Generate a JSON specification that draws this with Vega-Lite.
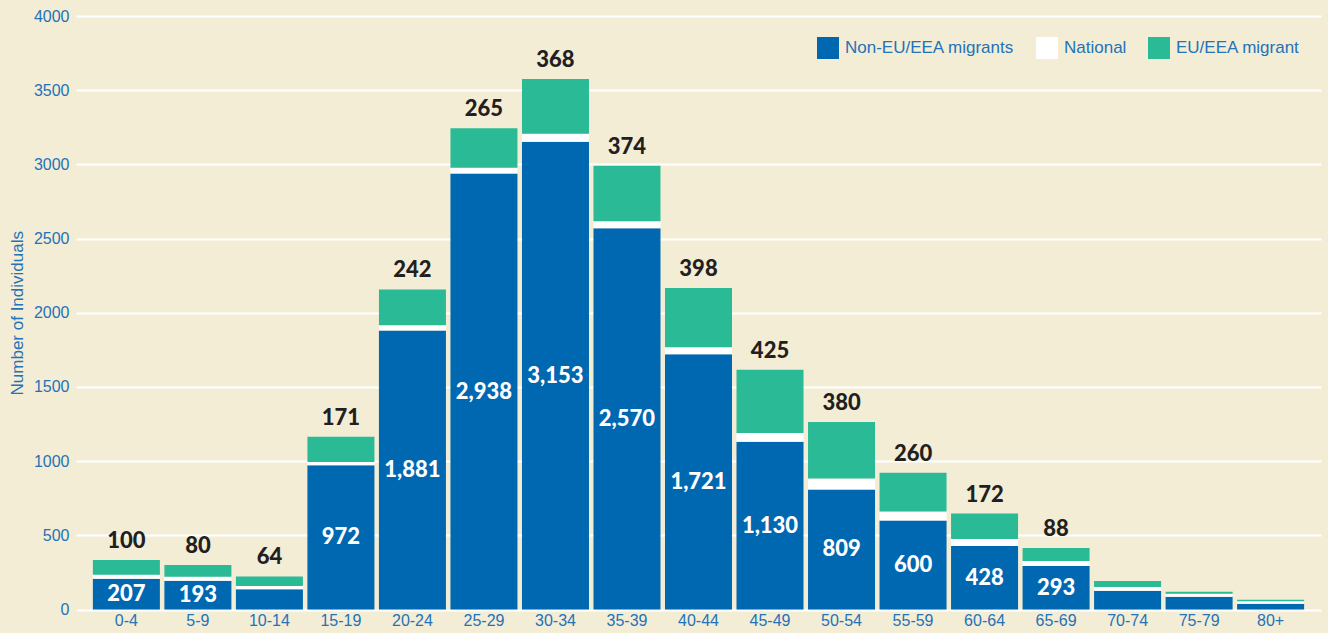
{
  "$schema": "https://vega.github.io/schema/vega-lite/v6.json",
  "width": 1245,
  "height": 593.5,
  "autosize": {"type": "none"},
  "padding": {"left": 76, "top": 16, "right": 7, "bottom": 23.5},
  "background": "#F3EDD6",
  "config": {
    "view": {"stroke": null},
    "font": "Liberation Sans"
  },
  "data": {
    "values": [
      {"age": "0-4", "group": "Non-EU/EEA migrants", "value": 207},
      {"age": "0-4", "group": "National", "value": 27},
      {"age": "0-4", "group": "EU/EEA migrant", "value": 100},
      {"age": "5-9", "group": "Non-EU/EEA migrants", "value": 193},
      {"age": "5-9", "group": "National", "value": 27},
      {"age": "5-9", "group": "EU/EEA migrant", "value": 80},
      {"age": "10-14", "group": "Non-EU/EEA migrants", "value": 137},
      {"age": "10-14", "group": "National", "value": 22},
      {"age": "10-14", "group": "EU/EEA migrant", "value": 64},
      {"age": "15-19", "group": "Non-EU/EEA migrants", "value": 972},
      {"age": "15-19", "group": "National", "value": 22},
      {"age": "15-19", "group": "EU/EEA migrant", "value": 171},
      {"age": "20-24", "group": "Non-EU/EEA migrants", "value": 1881},
      {"age": "20-24", "group": "National", "value": 34},
      {"age": "20-24", "group": "EU/EEA migrant", "value": 242},
      {"age": "25-29", "group": "Non-EU/EEA migrants", "value": 2938},
      {"age": "25-29", "group": "National", "value": 40},
      {"age": "25-29", "group": "EU/EEA migrant", "value": 265},
      {"age": "30-34", "group": "Non-EU/EEA migrants", "value": 3153},
      {"age": "30-34", "group": "National", "value": 54},
      {"age": "30-34", "group": "EU/EEA migrant", "value": 368},
      {"age": "35-39", "group": "Non-EU/EEA migrants", "value": 2570},
      {"age": "35-39", "group": "National", "value": 47},
      {"age": "35-39", "group": "EU/EEA migrant", "value": 374},
      {"age": "40-44", "group": "Non-EU/EEA migrants", "value": 1721},
      {"age": "40-44", "group": "National", "value": 47},
      {"age": "40-44", "group": "EU/EEA migrant", "value": 398},
      {"age": "45-49", "group": "Non-EU/EEA migrants", "value": 1130},
      {"age": "45-49", "group": "National", "value": 60},
      {"age": "45-49", "group": "EU/EEA migrant", "value": 425},
      {"age": "50-54", "group": "Non-EU/EEA migrants", "value": 809},
      {"age": "50-54", "group": "National", "value": 74},
      {"age": "50-54", "group": "EU/EEA migrant", "value": 380},
      {"age": "55-59", "group": "Non-EU/EEA migrants", "value": 600},
      {"age": "55-59", "group": "National", "value": 61},
      {"age": "55-59", "group": "EU/EEA migrant", "value": 260},
      {"age": "60-64", "group": "Non-EU/EEA migrants", "value": 428},
      {"age": "60-64", "group": "National", "value": 47},
      {"age": "60-64", "group": "EU/EEA migrant", "value": 172},
      {"age": "65-69", "group": "Non-EU/EEA migrants", "value": 293},
      {"age": "65-69", "group": "National", "value": 34},
      {"age": "65-69", "group": "EU/EEA migrant", "value": 88},
      {"age": "70-74", "group": "Non-EU/EEA migrants", "value": 126},
      {"age": "70-74", "group": "National", "value": 26},
      {"age": "70-74", "group": "EU/EEA migrant", "value": 40},
      {"age": "75-79", "group": "Non-EU/EEA migrants", "value": 86},
      {"age": "75-79", "group": "National", "value": 20},
      {"age": "75-79", "group": "EU/EEA migrant", "value": 13},
      {"age": "80+", "group": "Non-EU/EEA migrants", "value": 38},
      {"age": "80+", "group": "National", "value": 18},
      {"age": "80+", "group": "EU/EEA migrant", "value": 9}
    ]
  },
  "encoding": {
    "x": {
      "field": "age",
      "type": "nominal",
      "sort": null,
      "scale": {"paddingInner": 0.063, "paddingOuter": 0.236},
      "axis": {
        "title": null,
        "domain": false,
        "ticks": false,
        "labelAngle": 0,
        "labelFontSize": 16,
        "labelColor": "#2472B8",
        "labelPadding": 3
      }
    }
  },
  "layer": [
    {
      "mark": {"type": "bar"},
      "encoding": {
        "y": {
          "field": "value",
          "type": "quantitative",
          "stack": "zero",
          "scale": {"domain": [0, 4000]},
          "axis": {
            "title": "Number of Individuals",
            "titleFontSize": 17,
            "titleFontWeight": "normal",
            "titleColor": "#2472B8",
            "titlePadding": 7,
            "values": [0, 500, 1000, 1500, 2000, 2500, 3000, 3500, 4000],
            "format": "d",
            "labelFontSize": 16,
            "labelColor": "#2472B8",
            "labelPadding": 7,
            "domain": false,
            "ticks": false,
            "gridColor": "#FFFFFF",
            "gridWidth": 2,
            "gridOpacity": 1
          }
        },
        "color": {
          "field": "group",
          "type": "nominal",
          "scale": {
            "domain": ["Non-EU/EEA migrants", "National", "EU/EEA migrant"],
            "range": ["#0067B1", "#FFFFFF", "#2BBA96"]
          },
          "legend": {
            "title": null,
            "orient": "top-right",
            "direction": "horizontal",
            "offset": 21,
            "padding": 0,
            "symbolType": "square",
            "symbolSize": 484,
            "symbolStrokeWidth": 0,
            "symbolOpacity": 1,
            "labelFontSize": 17,
            "labelLimit": 400,
            "labelColor": "#2472B8",
            "labelOffset": 6,
            "columnPadding": 21
          }
        },
        "order": {"field": "group", "sort": "descending"}
      }
    },
    {
      "transform": [
        {"filter": "datum.group === 'Non-EU/EEA migrants' && datum.value > 150"},
        {"calculate": "datum.value / 2", "as": "mid"}
      ],
      "mark": {
        "type": "text",
        "font": "Lato",
        "fontWeight": 900,
        "fontSize": 22,
        "color": "#FFFFFF",
        "baseline": "middle"
      },
      "encoding": {
        "y": {"field": "mid", "type": "quantitative"},
        "text": {"field": "value", "type": "quantitative", "format": ",d"}
      }
    },
    {
      "transform": [
        {"joinaggregate": [{"op": "sum", "field": "value", "as": "total"}], "groupby": ["age"]},
        {"filter": "datum.group === 'EU/EEA migrant' && datum.value > 50"}
      ],
      "mark": {
        "type": "text",
        "font": "Lato",
        "fontWeight": 900,
        "fontSize": 22,
        "color": "#231F20",
        "baseline": "alphabetic",
        "dy": -12
      },
      "encoding": {
        "y": {"field": "total", "type": "quantitative"},
        "text": {"field": "value", "type": "quantitative", "format": "d"}
      }
    }
  ]
}
